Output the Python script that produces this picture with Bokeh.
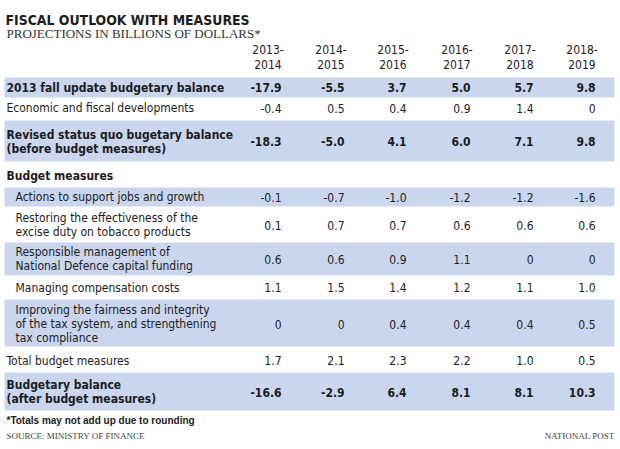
from bokeh.plotting import figure
from bokeh.models import Range1d, ColumnDataSource
from bokeh.core.properties import value
from bokeh.embed import file_html
from bokeh.resources import INLINE

# ---------------- data ----------------
title = "FISCAL OUTLOOK WITH MEASURES"
subtitle = "PROJECTIONS IN BILLIONS OF DOLLARS*"
years = ["2013-\n2014", "2014-\n2015", "2015-\n2016", "2016-\n2017", "2017-\n2018", "2018-\n2019"]

row_labels = [
    "2013 fall update budgetary balance",
    "Economic and fiscal developments",
    "Revised status quo bugetary balance\n(before budget measures)",
    "Budget measures",
    "Actions to support jobs and growth",
    "Restoring the effectiveness of the\nexcise duty on tobacco products",
    "Responsible management of\nNational Defence capital funding",
    "Managing compensation costs",
    "Improving the fairness and integrity\nof the tax system, and strengthening\ntax compliance",
    "Total budget measures",
    "Budgetary balance\n(after budget measures)",
]
fall_update = [-17.9, -5.5, 3.7, 5.0, 5.7, 9.8]
econ_fiscal = [-0.4, 0.5, 0.4, 0.9, 1.4, 0]
revised_status_quo = [-18.3, -5.0, 4.1, 6.0, 7.1, 9.8]
budget_measures = None
jobs_growth = [-0.1, -0.7, -1.0, -1.2, -1.2, -1.6]
tobacco_duty = [0.1, 0.7, 0.7, 0.6, 0.6, 0.6]
defence_funding = [0.6, 0.6, 0.9, 1.1, 0, 0]
compensation = [1.1, 1.5, 1.4, 1.2, 1.1, 1.0]
tax_fairness = [0, 0, 0.4, 0.4, 0.4, 0.5]
total_measures = [1.7, 2.1, 2.3, 2.2, 1.0, 0.5]
balance_after = [-16.6, -2.9, 6.4, 8.1, 8.1, 10.3]
row_values = [fall_update, econ_fiscal, revised_status_quo, budget_measures, jobs_growth,
              tobacco_duty, defence_funding, compensation, tax_fairness, total_measures,
              balance_after]
footnote = "*Totals may not add up due to rounding"
source_text = "SOURCE: MINISTRY OF FINANCE"
credit = "NATIONAL POST"

# ---------------- layout / style ----------------
row_top = [77, 97, 120, 160, 187, 206, 242, 275, 299, 346, 372]
row_bot = [97, 120, 161, 187, 206, 242, 275, 299, 346, 372, 410]
row_mid = [87, 107.5, 141, 175, 196.5, 224.5, 258.5, 287, 323.5, 360, 391.5]
row_band = [True, False, True, False, True, False, True, False, True, False, True]
row_bold = [True, False, True, True, False, False, False, False, False, False, True]
row_indent = [False, False, False, False, True, True, True, True, True, False, False]
col_right = [281, 344, 406, 470, 533, 595]

FONT = value("DejaVu Sans Condensed")
INK = "#1c1c1c"
BAND = "#c9d6ee"
BODY = "12px"

p = figure(width=620, height=449, x_range=Range1d(0, 620), y_range=Range1d(449, 0),
           output_backend="svg", toolbar_location=None, min_border=0,
           background_fill_color="white", border_fill_color="white")
p.xaxis.visible = False
p.yaxis.visible = False
p.grid.visible = False
p.outline_line_color = None

# bands
bsrc = ColumnDataSource(dict(
    top=[row_top[i] for i in range(len(row_labels)) if row_band[i]],
    bottom=[row_bot[i] for i in range(len(row_labels)) if row_band[i]],
))
p.quad(left=4, right=614, top="top", bottom="bottom", source=bsrc,
       fill_color=BAND, line_color=None)

# title & subtitle
p.text(x=[5], y=[19], text=[title], text_font=FONT, text_font_style="bold",
       text_font_size="13.9px", text_baseline="middle", text_color=INK)
p.text(x=[6], y=[33], text=[subtitle], text_font=value("Liberation Serif"),
       text_font_size="13px", text_baseline="middle", text_color="#333333")

# column headers
p.text(x=[c - 13.5 for c in col_right], y=[57] * 6, text=years, text_font=FONT,
       text_font_size=BODY, text_align="center", text_baseline="middle",
       text_line_height=1.03, text_color=INK)

def fmt(v):
    return "0" if v == 0 else f"{v:.1f}"

for bold in (True, False):
    lx, ly, lt = [], [], []
    vx, vy, vt = [], [], []
    for i, lab in enumerate(row_labels):
        if row_bold[i] != bold:
            continue
        lx.append(15 if row_indent[i] else 6)
        ly.append(row_mid[i])
        lt.append(lab)
        if row_values[i] is not None:
            for j, v in enumerate(row_values[i]):
                vx.append(col_right[j])
                vy.append(row_mid[i])
                vt.append(fmt(v))
    style = "bold" if bold else "normal"
    p.text(x=lx, y=ly, text=lt, text_font=FONT, text_font_style=style,
           text_font_size=BODY, text_baseline="middle", text_line_height=1.0,
           text_color=INK)
    p.text(x=vx, y=vy, text=vt, text_font=FONT, text_font_style=style,
           text_font_size=BODY, text_align="right", text_baseline="middle",
           text_color=INK)

# footer
p.text(x=[6], y=[420], text=[footnote], text_font=value("Liberation Sans"),
       text_font_style="bold", text_font_size="10px", text_baseline="middle",
       text_color=INK)
p.text(x=[6], y=[435], text=[source_text], text_font=value("Liberation Serif"),
       text_font_size="9px", text_baseline="middle", text_color="#444444")
p.text(x=[614], y=[435], text=[credit], text_font=value("Liberation Serif"),
       text_font_size="9px", text_align="right", text_baseline="middle",
       text_color="#444444")

open("out.html", "w").write(file_html(p, INLINE))
